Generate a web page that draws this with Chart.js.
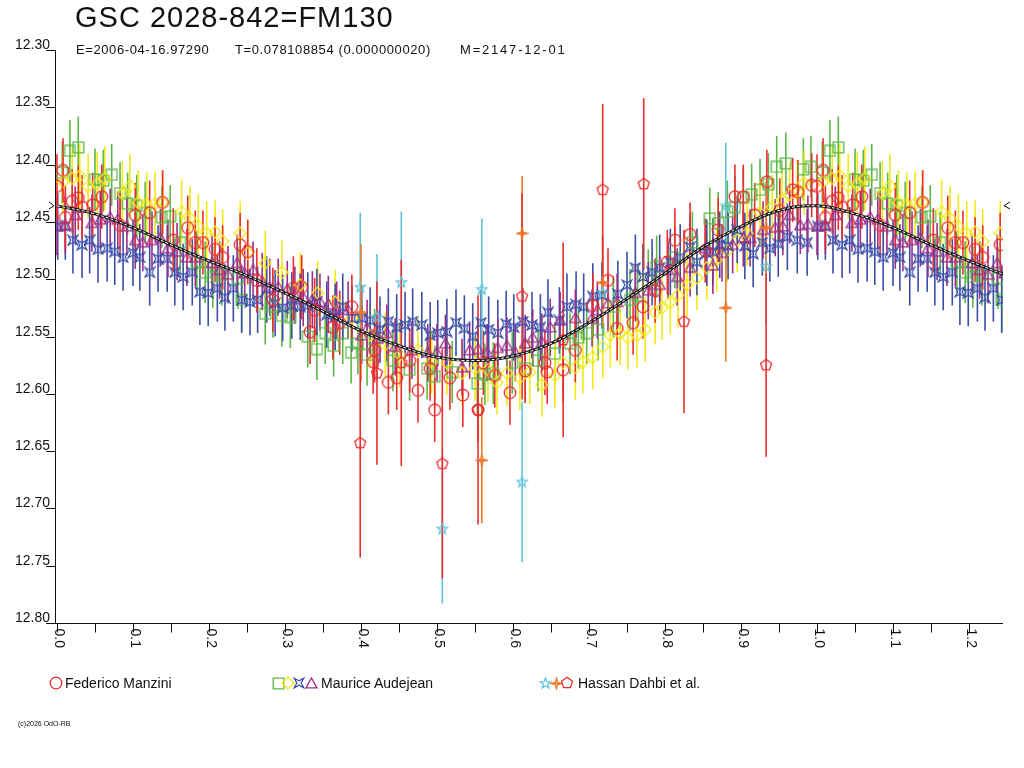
<!DOCTYPE html>
<html><head><meta charset="utf-8">
<script src="https://cdn.jsdelivr.net/npm/chart.js@4.4.1/dist/chart.umd.min.js"></script>
<style>
html,body{margin:0;padding:0;background:#fff;}
#wrap{position:relative;width:1024px;height:768px;overflow:hidden;font-family:"Liberation Sans",Arial,sans-serif;color:#111;}
#c{position:absolute;left:0;top:0;}
#title{position:absolute;left:75px;top:0px;font-size:29px;line-height:34px;letter-spacing:1px;}
.sub{position:absolute;top:42px;font-size:13px;line-height:16px;white-space:pre;letter-spacing:0.6px;}
#foot{position:absolute;left:18px;top:720px;font-size:7px;line-height:8px;}
.leg{position:absolute;top:675px;font-size:14px;line-height:17px;white-space:pre;}
</style></head><body>
<div id="wrap">
<canvas id="c" width="1024" height="768"></canvas>
<div id="title">GSC 2028-842=FM130</div>
<div class="sub" style="left:76px">E=2006-04-16.97290</div>
<div class="sub" style="left:235px">T=0.078108854 (0.000000020)</div>
<div class="sub" style="left:460px;letter-spacing:1.8px">M=2147-12-01</div>
<div class="leg" style="left:65px">Federico Manzini</div>
<div class="leg" style="left:321px">Maurice Audejean</div>
<div class="leg" style="left:578px">Hassan Dahbi et al.</div>
<div id="foot">(c)2026 OdO-RB</div>
</div>
<script>
// ---- tick labels ----
const yTickLabels = ['12.30','12.35','12.40','12.45','12.50','12.55','12.60','12.65','12.70','12.75','12.80'];
const xTickLabels = ['0.0','0.1','0.2','0.3','0.4','0.5','0.6','0.7','0.8','0.9','1.0','1.1','1.2'];

// ---- Federico Manzini (red circles) ----
const manzPhase = [0.000,0.008,0.011,0.020,0.028,0.033,0.047,0.059,0.083,0.103,0.122,0.139,0.153,0.172,0.182,0.192,0.208,0.218,0.241,0.251,0.263,0.284,0.311,0.322,0.333,0.339,0.363,0.372,0.388,0.416,0.418,0.436,0.447,0.464,0.475,0.491,0.497,0.517,0.534,0.554,0.561,0.576,0.596,0.616,0.642,0.645,0.666,0.682,0.705,0.725,0.737,0.758,0.771,0.787,0.803,0.813,0.833,0.853,0.870,0.892,0.903,0.918,0.934,0.951,0.968,0.975,0.993];
const manzMag = [12.419,12.405,12.446,12.432,12.429,12.437,12.435,12.428,12.453,12.444,12.442,12.433,12.466,12.455,12.468,12.468,12.474,12.481,12.470,12.476,12.501,12.518,12.508,12.507,12.546,12.527,12.542,12.538,12.524,12.572,12.562,12.590,12.586,12.571,12.597,12.578,12.614,12.586,12.601,12.614,12.573,12.584,12.599,12.580,12.573,12.581,12.579,12.562,12.523,12.501,12.543,12.538,12.524,12.510,12.485,12.466,12.461,12.475,12.457,12.428,12.428,12.444,12.415,12.440,12.422,12.424,12.418];
const manzErr = 0.028;

// ---- Maurice Audejean: green squares ----
const greenPhase = [0.007,0.017,0.028,0.050,0.061,0.072,0.083,0.093,0.105,0.116,0.138,0.149,0.162,0.184,0.195,0.205,0.217,0.238,0.243,0.274,0.284,0.296,0.307,0.330,0.342,0.353,0.364,0.376,0.387,0.396,0.408,0.418,0.442,0.464,0.487,0.497,0.520,0.553,0.563,0.574,0.599,0.616,0.633,0.655,0.675,0.686,0.697,0.712,0.732,0.754,0.764,0.778,0.789,0.813,0.836,0.859,0.870,0.882,0.892,0.903,0.914,0.925,0.936,0.947,0.959,0.982,0.992];
const greenMag = [12.407,12.388,12.385,12.413,12.414,12.409,12.425,12.434,12.436,12.442,12.446,12.445,12.468,12.485,12.494,12.498,12.496,12.499,12.518,12.530,12.524,12.532,12.533,12.550,12.561,12.547,12.558,12.547,12.564,12.556,12.566,12.553,12.571,12.579,12.578,12.585,12.581,12.591,12.583,12.582,12.573,12.578,12.571,12.565,12.556,12.551,12.547,12.544,12.524,12.518,12.514,12.501,12.489,12.481,12.468,12.447,12.451,12.441,12.437,12.429,12.426,12.422,12.417,12.402,12.399,12.404,12.402];
const greenErr = 0.027;

// ---- Maurice Audejean: yellow diamonds ----
const yellowPhase = [0.008,0.020,0.030,0.041,0.053,0.063,0.086,0.096,0.107,0.118,0.129,0.139,0.164,0.175,0.186,0.197,0.208,0.218,0.241,0.251,0.274,0.296,0.320,0.343,0.366,0.388,0.412,0.432,0.451,0.475,0.493,0.513,0.533,0.550,0.567,0.579,0.592,0.609,0.622,0.638,0.655,0.666,0.682,0.692,0.705,0.718,0.728,0.741,0.751,0.763,0.774,0.787,0.796,0.807,0.817,0.829,0.842,0.855,0.868,0.882,0.895,0.908,0.925,0.941,0.954,0.964,0.974,0.983];
const yellowMag = [12.415,12.412,12.410,12.419,12.417,12.412,12.425,12.419,12.433,12.435,12.434,12.433,12.441,12.447,12.454,12.460,12.459,12.467,12.460,12.477,12.486,12.494,12.505,12.512,12.520,12.534,12.549,12.557,12.566,12.562,12.572,12.573,12.582,12.578,12.579,12.590,12.582,12.586,12.581,12.592,12.584,12.573,12.577,12.572,12.568,12.559,12.549,12.547,12.551,12.549,12.544,12.529,12.525,12.520,12.514,12.505,12.499,12.490,12.483,12.475,12.466,12.460,12.442,12.437,12.431,12.426,12.424,12.416];
const yellowErr = 0.028;

// ---- Maurice Audejean: blue stars ----
const bluePhase = [0.001,0.011,0.021,0.033,0.043,0.054,0.066,0.076,0.087,0.100,0.109,0.122,0.133,0.145,0.155,0.166,0.178,0.188,0.199,0.211,0.221,0.232,0.243,0.254,0.264,0.276,0.287,0.297,0.309,0.320,0.330,0.342,0.355,0.366,0.376,0.388,0.401,0.412,0.425,0.436,0.447,0.458,0.468,0.480,0.491,0.501,0.513,0.525,0.536,0.547,0.558,0.568,0.580,0.591,0.601,0.613,0.625,0.636,0.646,0.661,0.671,0.683,0.693,0.705,0.717,0.738,0.750,0.761,0.771,0.783,0.793,0.807,0.820,0.833,0.842,0.855,0.863,0.872,0.883,0.895,0.905,0.916,0.928,0.938,0.949,0.961,0.974,0.987];
const blueMag = [12.454,12.454,12.466,12.470,12.466,12.474,12.473,12.476,12.481,12.477,12.481,12.494,12.482,12.482,12.494,12.498,12.494,12.511,12.512,12.508,12.516,12.508,12.518,12.520,12.518,12.509,12.521,12.525,12.523,12.524,12.523,12.520,12.531,12.533,12.524,12.534,12.534,12.536,12.544,12.537,12.542,12.540,12.537,12.540,12.549,12.547,12.546,12.538,12.543,12.550,12.538,12.544,12.547,12.539,12.542,12.537,12.540,12.542,12.529,12.536,12.524,12.522,12.524,12.515,12.514,12.513,12.505,12.490,12.498,12.494,12.490,12.485,12.481,12.472,12.485,12.477,12.476,12.470,12.471,12.457,12.471,12.478,12.468,12.473,12.469,12.463,12.466,12.468];
const blueErr = 0.029;

// ---- Maurice Audejean: purple triangles ----
const purplePhase = [0.000,0.011,0.024,0.046,0.057,0.070,0.080,0.092,0.103,0.113,0.125,0.136,0.146,0.158,0.171,0.182,0.204,0.214,0.225,0.237,0.247,0.258,0.270,0.280,0.291,0.303,0.313,0.324,0.336,0.346,0.357,0.368,0.383,0.401,0.408,0.422,0.434,0.445,0.467,0.488,0.500,0.511,0.533,0.543,0.554,0.566,0.580,0.592,0.603,0.616,0.626,0.638,0.649,0.662,0.682,0.704,0.711,0.725,0.737,0.761,0.778,0.793,0.804,0.816,0.833,0.853,0.863,0.875,0.889,0.903,0.912,0.929,0.945,0.955,0.964,0.978,0.988];
const purpleMag = [12.454,12.453,12.444,12.451,12.448,12.446,12.448,12.454,12.466,12.468,12.466,12.464,12.473,12.476,12.481,12.481,12.486,12.492,12.496,12.486,12.495,12.492,12.502,12.507,12.507,12.509,12.514,12.516,12.518,12.520,12.522,12.527,12.527,12.549,12.543,12.552,12.547,12.559,12.562,12.564,12.564,12.556,12.577,12.562,12.561,12.564,12.560,12.558,12.564,12.556,12.551,12.555,12.542,12.536,12.534,12.534,12.527,12.521,12.520,12.512,12.510,12.505,12.492,12.498,12.490,12.473,12.488,12.477,12.470,12.464,12.464,12.457,12.455,12.454,12.444,12.453,12.452];
const purpleErr = 0.025;

// ---- Hassan Dahbi et al. ----
const cyanPhase = [0.399,0.421,0.453,0.507,0.559,0.612,0.718,0.880,0.933];
const cyanMag   = [12.507,12.533,12.503,12.718,12.509,12.677,12.512,12.436,12.489];
const cyanErr   = [0.065,0.055,0.062,0.065,0.062,0.070,0.050,0.055,0.050];
const orangePhase = [0.400,0.559,0.612,0.718,0.880,0.933];
const orangeMag   = [12.529,12.658,12.460,12.503,12.525,12.455];
const orangeErr   = [0.060,0.055,0.050,0.040,0.047,0.040];
const pentPhase = [0.399,0.421,0.453,0.507,0.554,0.612,0.666,0.718,0.772,0.825,0.933];
const pentMag   = [12.643,12.582,12.573,12.661,12.614,12.515,12.553,12.422,12.417,12.537,12.575];
const pentErr   = [0.100,0.080,0.090,0.100,0.100,0.090,0.085,0.075,0.075,0.080,0.080];

// ---- mean light curve ----
const curvePhase = [0,0.05,0.10,0.15,0.20,0.25,0.30,0.35,0.40,0.45,0.50,0.55,0.60,0.65,0.70,0.75,0.80,0.85,0.90,0.95,1.00,1.05,1.10,1.15,1.20,1.25];
const curveMag   = [12.436,12.443,12.455,12.470,12.484,12.497,12.512,12.528,12.545,12.558,12.568,12.571,12.567,12.556,12.538,12.517,12.495,12.472,12.454,12.440,12.436,12.443,12.455,12.470,12.484,12.497];
const maxLevel = 12.436;

// phase diagram: points with phase < 0.25 are shown again one cycle later
function build(ph, mg, er){
  const out = [];
  for (let i = 0; i < ph.length; i++){
    const e = Array.isArray(er) ? er[i] : er;
    out.push({x: ph[i], y: mg[i], e});
    if (ph[i] < 0.25) out.push({x: ph[i] + 1, y: mg[i], e});
  }
  return out;
}

const C = {red:'#ee2b2b', green:'#5cb845', yellow:'#f2ea14', blue:'#3a4ea8', purple:'#a02c88', cyan:'#5ec4dd', orange:'#ee7a2a'};

function shape(kind, color, size){
  const c = document.createElement('canvas');
  c.width = c.height = size;
  const g = c.getContext('2d');
  g.translate(size/2, size/2);
  g.strokeStyle = color; g.lineWidth = 1.3;
  g.beginPath();
  if (kind === 'circle'){ g.arc(0,0,size/2-1.2,0,Math.PI*2); }
  else if (kind === 'square'){ const h=size/2-1.2; g.rect(-h,-h,2*h,2*h); }
  else if (kind === 'diamond'){ const h=size/2-1; g.moveTo(0,-h); g.lineTo(h,0); g.lineTo(0,h); g.lineTo(-h,0); g.closePath(); }
  else if (kind === 'triangle'){ const h=size/2-1; g.moveTo(0,-h); g.lineTo(h,h*0.8); g.lineTo(-h,h*0.8); g.closePath(); }
  else if (kind === 'bstar'){ const h=size/2-1.2, k=h*0.45; g.moveTo(-h,-h); g.lineTo(0,-k); g.lineTo(h,-h); g.lineTo(k,0); g.lineTo(h,h); g.lineTo(0,k); g.lineTo(-h,h); g.lineTo(-k,0); g.closePath(); }
  else if (kind === 'star5'){ const R=size/2-1, r=R*0.42; for(let i=0;i<10;i++){ const a=-Math.PI/2+i*Math.PI/5, rr=i%2?r:R; const px=rr*Math.cos(a), py=rr*Math.sin(a); i?g.lineTo(px,py):g.moveTo(px,py);} g.closePath(); }
  else if (kind === 'ostar'){ const R=size/2-1, r=R*0.3; for(let i=0;i<8;i++){ const a=-Math.PI/2+i*Math.PI/4, rr=i%2?r:R; const px=rr*Math.cos(a), py=rr*Math.sin(a); i?g.lineTo(px,py):g.moveTo(px,py);} g.closePath(); g.moveTo(-R,0); g.lineTo(R,0); }
  else if (kind === 'pent'){ const R=size/2-1.2; for(let i=0;i<5;i++){ const a=-Math.PI/2+i*2*Math.PI/5; const px=R*Math.cos(a), py=R*Math.sin(a); i?g.lineTo(px,py):g.moveTo(px,py);} g.closePath(); }
  g.stroke();
  return c;
}

const M = {
  red: shape('circle', C.red, 14),
  green: shape('square', C.green, 13),
  yellow: shape('diamond', C.yellow, 14),
  blue: shape('bstar', C.blue, 12),
  purple: shape('triangle', C.purple, 13),
  cyan: shape('star5', C.cyan, 13),
  orange: shape('ostar', C.orange, 13),
  pent: shape('pent', C.red, 14)
};

function ds(label, data, marker, color, order){
  return {type:'scatter', label, data, pointStyle: marker, pointRadius: 6, errColor: color, order, showLine:false};
}

const datasets = [
  {type:'line', label:'curve-w', data: curvePhase.map((p,i)=>({x:p, y:curveMag[i]})), borderColor:'#ffffff', borderWidth:1, borderDash:[3,2], pointRadius:0, tension:0.4, order:-1},
  {type:'line', label:'curve', data: curvePhase.map((p,i)=>({x:p, y:curveMag[i]})), borderColor:'#1a1a1a', borderWidth:3, pointRadius:0, tension:0.4, order:0},
  ds('Dahbi cyan', build(cyanPhase, cyanMag, cyanErr), M.cyan, C.cyan, 1),
  ds('Dahbi orange', build(orangePhase, orangeMag, orangeErr), M.orange, C.orange, 1),
  ds('Dahbi pent', build(pentPhase, pentMag, pentErr), M.pent, C.red, 1),
  ds('Manzini', build(manzPhase, manzMag, manzErr), M.red, C.red, 2),
  ds('purple', build(purplePhase, purpleMag, purpleErr), M.purple, C.purple, 3),
  ds('blue', build(bluePhase, blueMag, blueErr), M.blue, C.blue, 4),
  ds('yellow', build(yellowPhase, yellowMag, yellowErr), M.yellow, C.yellow, 5),
  ds('green', build(greenPhase, greenMag, greenErr), M.green, C.green, 6)
];

const errPlugin = {
  id: 'errbars',
  beforeDatasetsDraw(chart){
    const {ctx, chartArea:a, scales:{x, y}} = chart;
    ctx.save();
    ctx.beginPath(); ctx.rect(a.left, a.top, a.right-a.left, a.bottom-a.top+1); ctx.clip();
    ctx.lineWidth = 1.6;
    const list = chart.data.datasets.filter(d => d.errColor).slice().sort((p,q)=>q.order-p.order);
    list.forEach(d => {
      ctx.strokeStyle = d.errColor;
      d.data.forEach(p => {
        const px = x.getPixelForValue(p.x);
        ctx.beginPath();
        ctx.moveTo(px, y.getPixelForValue(p.y - p.e));
        ctx.lineTo(px, y.getPixelForValue(p.y + p.e));
        ctx.stroke();
      });
    });
    ctx.restore();
  }
};

const axesPlugin = {
  id: 'axes',
  afterDraw(chart){
    const {ctx, scales:{x, y}} = chart;
    ctx.save();
    ctx.strokeStyle = '#111'; ctx.fillStyle = '#111'; ctx.lineWidth = 1;
    const ax = 55.5;
    const yTop = Math.round(y.getPixelForValue(12.30)) + 0.5;
    const yBot = Math.round(y.getPixelForValue(12.80)) + 0.5;
    ctx.beginPath(); ctx.moveTo(ax, yTop); ctx.lineTo(ax, yBot + 0.5); ctx.stroke();
    ctx.beginPath(); ctx.moveTo(46, yBot); ctx.lineTo(1003, yBot); ctx.stroke();
    ctx.font = '14px "Liberation Sans", Arial, sans-serif';
    ctx.textAlign = 'right'; ctx.textBaseline = 'alphabetic';
    yTickLabels.forEach(t => {
      const py = Math.round(y.getPixelForValue(parseFloat(t))) + 0.5;
      ctx.beginPath(); ctx.moveTo(46, py); ctx.lineTo(ax, py); ctx.stroke();
      ctx.fillText(t, 50, py - 2);
    });
    // x ticks: major every 0.1, minor at 0.05
    xTickLabels.forEach(t => {
      const v = parseFloat(t);
      const px = Math.round(x.getPixelForValue(v)) + 0.5;
      ctx.beginPath(); ctx.moveTo(px, yBot); ctx.lineTo(px, yBot + 9); ctx.stroke();
      const pm = Math.round(x.getPixelForValue(v + 0.05)) + 0.5;
      if (pm < 1003) { ctx.beginPath(); ctx.moveTo(pm, yBot); ctx.lineTo(pm, yBot + 9); ctx.stroke(); }
      ctx.save();
      ctx.translate(px + 1, yBot + 5);
      ctx.rotate(Math.PI / 2);
      ctx.textAlign = 'left'; ctx.textBaseline = 'middle';
      ctx.fillText(t, 0, 0);
      ctx.restore();
    });
    // maximum level markers
    const pyM = y.getPixelForValue(maxLevel);
    ctx.beginPath(); ctx.moveTo(49, pyM - 4); ctx.lineTo(54, pyM); ctx.lineTo(49, pyM + 3); ctx.stroke();
    ctx.beginPath(); ctx.moveTo(1010, pyM - 4); ctx.lineTo(1004, pyM); ctx.lineTo(1010, pyM + 3); ctx.stroke();
    // legend symbols
    const ly = 683;
    const put = (img, cx) => ctx.drawImage(img, Math.round(cx - img.width/2), Math.round(ly - img.height/2));
    put(M.red, 56);
    put(M.green, 278); put(M.yellow, 288); put(M.blue, 299); put(M.purple, 311);
    put(M.cyan, 545); put(M.orange, 556); put(M.pent, 567);
    ctx.restore();
  }
};

new Chart(document.getElementById('c'), {
  data: { datasets },
  options: {
    responsive: false,
    animation: false,
    events: [],
    devicePixelRatio: 1,
    layout: { padding: { left: 55, right: 21, top: 50, bottom: 145 } },
    scales: {
      x: { type: 'linear', min: -0.0026, max: 1.2447, display: false },
      y: { type: 'linear', min: 12.30, max: 12.80, reverse: true, display: false }
    },
    plugins: { legend: { display: false }, tooltip: { enabled: false } }
  },
  plugins: [errPlugin, axesPlugin]
});
</script>
</body></html>
